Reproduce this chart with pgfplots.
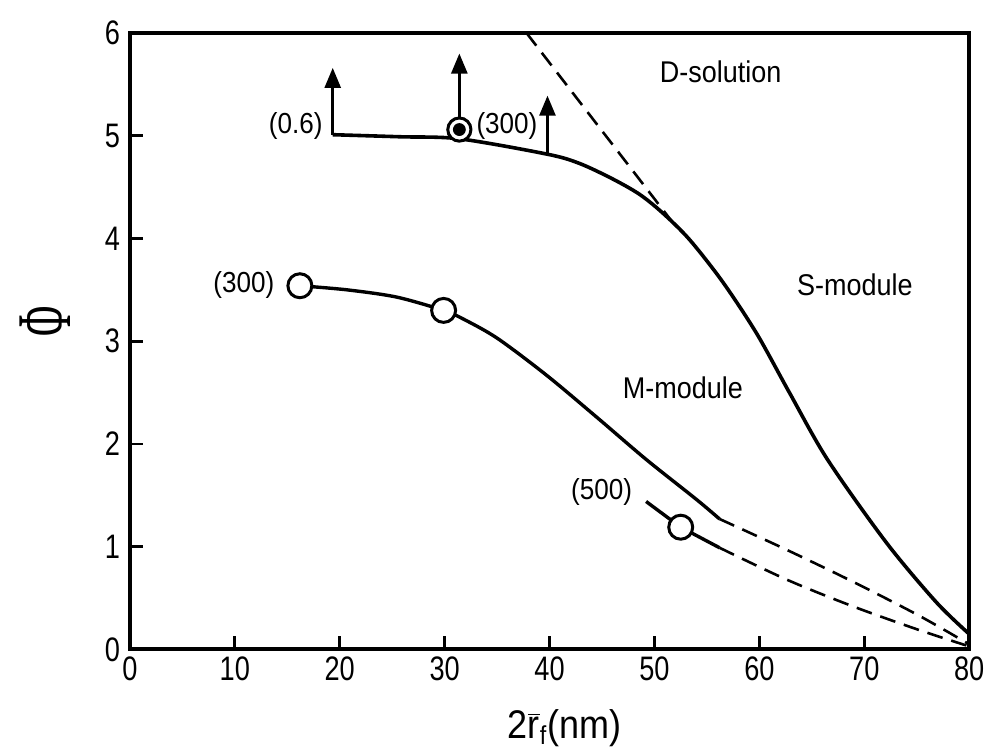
\documentclass[border=0pt]{standalone}
\usepackage{pgfplots}
\pgfplotsset{compat=1.18}
\usepackage{fontspec}
\setmainfont[FakeStretch=0.9]{Liberation Sans}
\newfontfamily\tickfont[FakeStretch=0.8]{Liberation Sans}
\newfontfamily\phifont{Liberation Serif}
\usetikzlibrary{arrows.meta}

\begin{document}
\begin{tikzpicture}
\begin{axis}[
  scale only axis, width=420pt, height=308.5pt,
  xmin=0, xmax=80, ymin=0, ymax=6,
  xtick={0,10,...,80}, ytick={0,1,...,6},
  tick align=inside, xtick pos=bottom, ytick pos=left,
  major tick length=6.5pt,
  tick style={line width=1.4pt, black},
  axis line style={line width=2pt},
  ticklabel style={font=\tickfont\fontsize{17}{18}\selectfont},
  yticklabel style={xshift=-1.5pt},
  /pgf/number format/assume math mode=true,
  clip=false,
  every axis plot/.append style={black},
]
% bounding box matching the reference proportions
\path (rel axis cs:-0.1548,-0.1572) rectangle (rel axis cs:1.025,1.0535);

% y label: Phi turned on its side
\node[rotate=90, font=\fontsize{30}{30}\selectfont] at (axis cs:-8.1,3.19) {\phifont\scalebox{0.69}[1.29]{Φ}};

% S-module curve (D-solution)
\addplot[line width=1.8pt, smooth] coordinates {
 (19.33,5.01) (25.7,4.99) (31.4,4.97) (39.8,4.82) (42.86,4.73) (46.0,4.58)
 (48.57,4.43) (50.76,4.25) (53.33,3.99) (56.48,3.58) (59.71,3.08) (62.86,2.50)
 (66.48,1.85) (72.1,1.04) (76.86,0.46) (80,0.15)};
\addplot[line width=1.3pt, dash pattern=on 8pt off 4.5pt] coordinates {(37.8,6.0) (51.7,4.16)};

% arrows
\addplot[line width=1.3pt, -{Triangle[width=8pt,length=10pt]}] coordinates {(19.33,5.01) (19.33,5.66)};
\addplot[line width=1.3pt, -{Triangle[width=8pt,length=10pt]}] coordinates {(31.4,5.10) (31.4,5.80)};
\addplot[line width=1.3pt, -{Triangle[width=8pt,length=10pt]}] coordinates {(39.8,4.82) (39.8,5.39)};

% filled marker
\addplot[only marks, mark=*, mark size=5.8pt, mark options={fill=white, line width=1.5pt}] coordinates {(31.4,5.06)};
\addplot[only marks, mark=*, mark size=3pt] coordinates {(31.4,5.06)};

% M-module curve
\addplot[line width=1.7pt, smooth] coordinates {
 (16.2,3.54) (20.7,3.50) (25.4,3.43) (29.9,3.30) (31.7,3.22) (35.0,3.03)
 (39.7,2.67) (44.5,2.26) (49.2,1.85) (54.0,1.46) (56.2,1.27)};
\addplot[line width=1.3pt, dash pattern=on 8pt off 4.5pt, smooth] coordinates {
 (56.2,1.27) (62.6,0.97) (68.9,0.66) (75.2,0.33) (80,0.05)};
% lower branch
\addplot[line width=1.7pt] coordinates {(49.2,1.44) (52.5,1.19) (56.2,0.99)};
\addplot[line width=1.3pt, dash pattern=on 8pt off 4.5pt, smooth] coordinates {
 (56.2,0.99) (62.6,0.68) (68.9,0.42) (75.2,0.19) (80,0.03)};

% open markers
\addplot[only marks, mark=*, mark size=6pt, mark options={fill=white, line width=1.5pt}] coordinates {(16.2,3.54) (29.9,3.30) (52.5,1.19)};

% labels
\node[font=\fontsize{15}{18}\selectfont] at (axis cs:56.3,5.62) {D-solution};
\node[font=\fontsize{15}{18}\selectfont] at (axis cs:69.1,3.55) {S-module};
\node[font=\fontsize{15}{18}\selectfont] at (axis cs:52.7,2.55) {M-module};
\node[anchor=east, inner sep=0pt, font=\fontsize{14.5}{16}\selectfont] at (axis cs:18.4,5.09) {(0.6)};
\node[anchor=west, inner sep=0pt, font=\fontsize{14.5}{16}\selectfont] at (axis cs:33.0,5.09) {(300)};
\node[anchor=east, inner sep=0pt, font=\fontsize{14.5}{16}\selectfont] at (axis cs:13.8,3.55) {(300)};
\node[anchor=east, inner sep=0pt, font=\fontsize{14.5}{16}\selectfont] at (axis cs:47.9,1.53) {(500)};

% x label
\node[font=\fontsize{20}{22}\selectfont] at (rel axis cs:0.518,-0.128) {2$\overline{\mbox{r}}_{\mbox{\fontsize{13}{14}\selectfont f}}$(nm)};
\end{axis}
\end{tikzpicture}
\end{document}
